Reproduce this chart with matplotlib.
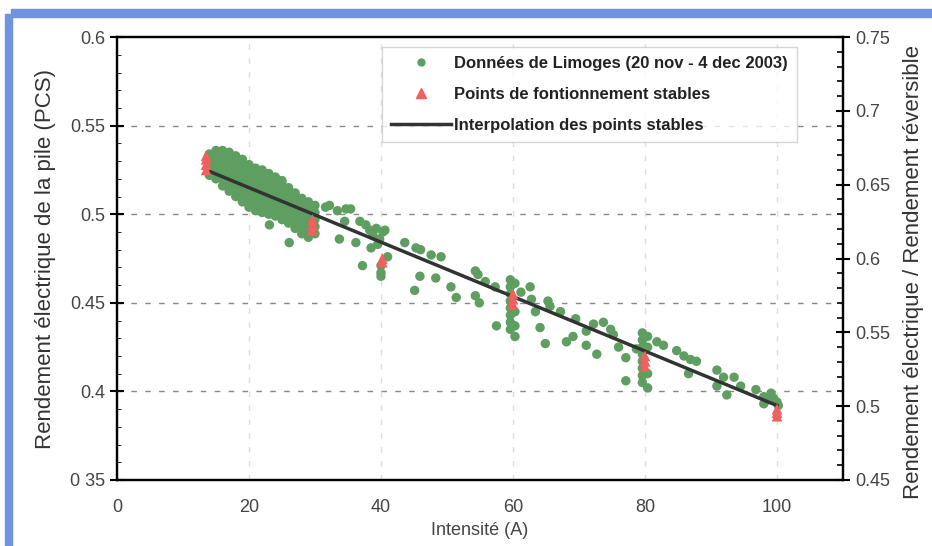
import matplotlib
matplotlib.use("Agg")
import matplotlib.pyplot as plt
from matplotlib.patches import Rectangle
from matplotlib.lines import Line2D
from matplotlib.ticker import MultipleLocator

plt.rcParams['font.family'] = ['Liberation Sans', 'DejaVu Sans']

# ---- data: measured points (Limoges, 20 nov - 4 dec 2003) ----
cloud_I = ([14]*4 + [15]*5 + [16]*6 + [17]*7 + [18]*7 + [19]*7 + [20]*7 + [21]*7 +
           [22]*7 + [23]*7 + [24]*7 + [25]*7 + [26]*6 + [27]*6 + [28]*6 + [29]*6 + [30]*5)
cloud_eta = [0.522, 0.526, 0.530, 0.534,
             0.520, 0.524, 0.528, 0.532, 0.536,
             0.516, 0.520, 0.524, 0.528, 0.532, 0.536,
             0.513, 0.517, 0.521, 0.525, 0.529, 0.533, 0.535,
             0.510, 0.514, 0.518, 0.522, 0.526, 0.530, 0.533,
             0.507, 0.511, 0.515, 0.519, 0.523, 0.527, 0.531,
             0.504, 0.508, 0.512, 0.516, 0.520, 0.524, 0.528,
             0.502, 0.506, 0.510, 0.514, 0.518, 0.522, 0.526,
             0.501, 0.505, 0.509, 0.513, 0.517, 0.521, 0.525,
             0.500, 0.504, 0.508, 0.512, 0.516, 0.520, 0.523,
             0.499, 0.503, 0.507, 0.511, 0.515, 0.519, 0.521,
             0.497, 0.501, 0.505, 0.509, 0.513, 0.517, 0.519,
             0.495, 0.499, 0.503, 0.507, 0.511, 0.515,
             0.492, 0.496, 0.500, 0.504, 0.508, 0.512,
             0.489, 0.493, 0.497, 0.501, 0.505, 0.509,
             0.487, 0.491, 0.495, 0.499, 0.503, 0.507,
             0.489, 0.493, 0.497, 0.501, 0.505]

sparse_I = [23.1, 26.1, 31.6, 32.2, 33.4, 34.7, 35.4, 34.5, 36.8, 33.7, 36.2,
            37.7, 38.3, 38.8, 39.3, 39.8, 40.3, 38.5, 39.5, 40.6, 41.0, 40.0, 40.0,
            40.0, 37.2, 43.6, 45.3, 46.0, 47.6, 49.1, 45.9, 48.3, 45.1, 50.6, 51.4,
            54.3, 54.7, 54.3, 54.9, 55.8, 57.3, 57.5,
            59.6, 59.6, 59.6, 59.6, 59.6, 59.6, 59.6, 59.6, 60.3, 60.3, 60.3, 60.3,
            61.2, 62.6, 62.8, 63.4, 64.1, 64.9, 65.3, 65.6, 67.2, 68.1, 69.5, 69.1,
            71.1, 71.1, 72.2, 72.7, 73.7, 74.8, 75.2, 76.0, 77.1, 77.1, 78.7,
            79.6, 79.6, 79.6, 79.6, 79.6, 79.6, 79.6, 79.6, 80.4, 80.4, 80.4, 80.4,
            81.8, 82.8, 84.8, 85.9, 86.9, 87.8, 86.6, 90.9, 91.9, 93.5, 94.5, 90.9,
            92.4, 96.8, 98.0, 99.1, 100.0, 100.2, 98.0, 98.5, 99.5]
sparse_eta = [0.494, 0.484, 0.504, 0.505, 0.502, 0.503, 0.503, 0.496, 0.496, 0.486, 0.484,
              0.494, 0.491, 0.488, 0.492, 0.486, 0.490, 0.481, 0.483, 0.491, 0.476, 0.471, 0.467,
              0.465, 0.471, 0.484, 0.481, 0.480, 0.477, 0.476, 0.465, 0.464, 0.457, 0.459, 0.453,
              0.468, 0.466, 0.454, 0.450, 0.462, 0.459, 0.437,
              0.463, 0.459, 0.455, 0.451, 0.447, 0.443, 0.439, 0.435, 0.461, 0.445, 0.437, 0.431,
              0.456, 0.459, 0.452, 0.445, 0.436, 0.427, 0.451, 0.448, 0.445, 0.428, 0.441, 0.431,
              0.434, 0.426, 0.438, 0.421, 0.439, 0.435, 0.432, 0.425, 0.419, 0.406, 0.424,
              0.433, 0.429, 0.425, 0.421, 0.417, 0.413, 0.409, 0.405, 0.431, 0.425, 0.410, 0.402,
              0.428, 0.426, 0.423, 0.420, 0.418, 0.417, 0.410, 0.412, 0.408, 0.408, 0.403, 0.403,
              0.398, 0.401, 0.397, 0.399, 0.394, 0.392, 0.393, 0.395, 0.396]

# ---- stable operating points ----
stable_I = [13.5, 13.5, 13.5, 13.5, 29.6, 29.6, 29.6, 40.2, 40.2, 60.0, 60.0, 60.0,
            80.0, 80.0, 80.0, 100.0, 100.0, 100.0]
stable_eta = [0.525, 0.528, 0.531, 0.533, 0.491, 0.494, 0.497, 0.473, 0.475, 0.449, 0.452, 0.455,
              0.414, 0.417, 0.420, 0.386, 0.388, 0.390]

# ---- interpolation line ----
interp_I = [13.5, 100.0]
interp_eta = [0.525, 0.392]

# ---- labels ----
legend_labels = ["Données de Limoges (20 nov - 4 dec 2003)",
                 "Points de fontionnement stables",
                 "Interpolation des points stables"]
x_ticks = [0, 20, 40, 60, 80, 100]
y_ticks = [0.35, 0.4, 0.45, 0.5, 0.55, 0.6]
y_ticklabels = ["0 35", "0.4", "0.45", "0.5", "0.55", "0.6"]
y2_ticks = [0.45, 0.5, 0.55, 0.6, 0.65, 0.7, 0.75]
y2_ticklabels = ["0.45", "0.5", "0.55", "0.6", "0.65", "0.7", "0.75"]

GREEN = "#5e9e61"
RED = "#f0605e"

fig = plt.figure(figsize=(9.32, 5.46), dpi=100)
fig.patch.set_facecolor("white")
# scanned blue frame
fig.patches.append(Rectangle((0.012, 0.968), 0.988, 0.016, transform=fig.transFigure,
                             color="#6f93e0", zorder=0))
fig.patches.append(Rectangle((0.005, 0.0), 0.008, 0.975, transform=fig.transFigure,
                             color="#6f93e0", zorder=0))

ax = fig.add_axes([0.1255, 0.121, 0.779, 0.811])
ax.set_xlim(0, 110)
ax.set_ylim(0.35, 0.6)

# grid
for yv in [0.4, 0.45, 0.5, 0.55]:
    ax.axhline(yv, color="#888888", lw=1.0, ls=(0, (4, 6)), zorder=0.5)
for xv in [20, 40, 60, 80, 100]:
    ax.axvline(xv, color="#dddddd", lw=1.0, ls=(0, (4, 6)), zorder=0.5)

ax.scatter(cloud_I, cloud_eta, s=46, color=GREEN, edgecolors="none", zorder=2)
ax.scatter(sparse_I, sparse_eta, s=46, color=GREEN, edgecolors="none", zorder=2)
ax.plot(interp_I, interp_eta, color="#333333", lw=2.5, zorder=3)
ax.scatter(stable_I, stable_eta, s=60, marker="^", color=RED, edgecolors="none", zorder=4)

ax.set_xticks(x_ticks)
ax.set_xticklabels([str(v) for v in x_ticks])
ax.get_xticklabels()[0].set_color("#aaaaaa")
ax.set_yticks(y_ticks)
ax.set_yticklabels(y_ticklabels)
ax.yaxis.set_minor_locator(MultipleLocator(0.01))
ax.tick_params(axis="x", length=0, labelsize=13, colors="#444444", pad=14)
ax.tick_params(axis="y", which="major", direction="inout", length=10, width=1.5,
               labelsize=13, labelcolor="#444444")
ax.tick_params(axis="y", which="minor", direction="in", length=3)
for sp in ax.spines.values():
    sp.set_linewidth(1.6)
    sp.set_color("#111111")

ax.set_xlabel("Intensité (A)", fontsize=13, color="#444444", labelpad=4)
ax.set_ylabel("Rendement électrique de la pile (PCS)", fontsize=16, color="#333333", labelpad=10)

ax2 = ax.twinx()
ax2.set_ylim(0.45, 0.75)
ax2.set_yticks(y2_ticks)
ax2.set_yticklabels(y2_ticklabels)
ax2.yaxis.set_minor_locator(MultipleLocator(0.01))
ax2.tick_params(axis="y", which="major", direction="inout", length=10, width=1.5,
                labelsize=13, labelcolor="#444444")
ax2.tick_params(axis="y", which="minor", direction="in", length=4, width=1.2)
ax2.set_ylabel("Rendement électrique / Rendement réversible", fontsize=16, color="#333333")
ax2.yaxis.set_label_coords(1.082, 0.47)
for sp in ax2.spines.values():
    sp.set_linewidth(1.6)

handles = [Line2D([], [], ls="none", marker="o", color=GREEN, markersize=5),
           Line2D([], [], ls="none", marker="^", color=RED, markersize=7),
           Line2D([], [], color="#333333", lw=2.5)]
leg = ax.legend(handles, legend_labels, loc="upper right", bbox_to_anchor=(0.937, 0.978),
                frameon=True, fancybox=False, edgecolor="#cccccc",
                handlelength=3.6, handletextpad=0.2, labelspacing=0.95,
                borderpad=0.55, borderaxespad=0,
                prop={"weight": "bold", "size": 12})
leg.get_frame().set_linewidth(1.0)
for t in leg.get_texts():
    t.set_color("#222222")

fig.savefig("out.png", dpi=100)
